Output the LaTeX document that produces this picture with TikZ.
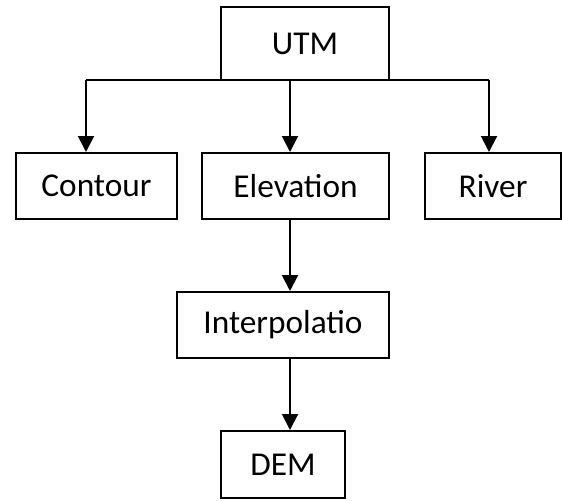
\documentclass[tikz,border=0pt]{standalone}
\usepackage{fontspec}
\setmainfont{Carlito}
\usepackage{tikz}
\usetikzlibrary{arrows.meta,positioning}

\tikzset{
    box/.style={draw, line width=1.2pt, minimum height=39.6pt, inner sep=0pt,
        font=\fontsize{20}{24}\selectfont},
    arr/.style={line width=1.2pt, -{Triangle[width=9.6pt,length=9.6pt]}}
}

\begin{document}
\begin{tikzpicture}[x=0.6pt, y=-0.6pt]
    \useasboundingbox (0,0) rectangle (562,500);

    % Top level
    \node[box, minimum width=100.8pt, minimum height=43.8pt] (utm) at (305, 43.5) {UTM};

    % Second level
    \node[box, minimum width=96.6pt] (contour) at (96.5, 186) {Contour};
    \node[box, minimum width=112.2pt] (elevation) at (295.5, 186) {Elevation};
    \node[box, minimum width=81.6pt] (river) at (493, 186) {River};

    % Lower chain
    \node[box, minimum width=127.2pt] (interp) at (283, 325) {Interpolatio};
    \node[box, minimum width=74.4pt, minimum height=40.2pt] (dem) at (283, 464.5) {DEM};

    % Branch line under UTM
    \coordinate (busL) at (86, 80);
    \coordinate (busM) at (290, 80);
    \coordinate (busR) at (489, 80);
    \draw[line width=1.2pt] (busL) -- (busR);

    \draw[arr] (busL) -- (busL |- contour.north);
    \draw[arr] (busM) -- (busM |- elevation.north);
    \draw[arr] (busR) -- (busR |- river.north);

    % Down the chain
    \draw[arr] (busM |- elevation.south) -- (busM |- interp.north);
    \draw[arr] (busM |- interp.south) -- (busM |- dem.north);
\end{tikzpicture}
\end{document}
